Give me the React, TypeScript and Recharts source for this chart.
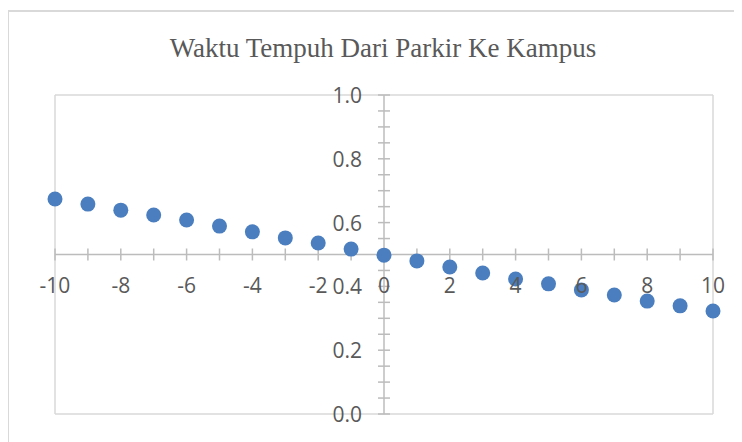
import { CartesianGrid, ReferenceDot, ReferenceLine, Scatter, ScatterChart, XAxis, YAxis } from "recharts"

const title = "Waktu Tempuh Dari Parkir Ke Kampus"

const xValues = [-10, -9, -8, -7, -6, -5, -4, -3, -2, -1, 0, 1, 2, 3, 4, 5, 6, 7, 8, 9, 10]
const yValues = [
  0.674, 0.658, 0.639, 0.624, 0.608, 0.589, 0.571, 0.552, 0.536, 0.517, 0.498,
  0.48, 0.461, 0.442, 0.423, 0.408, 0.389, 0.373, 0.354, 0.339, 0.323,
]

const xGridTicks = [-10, -8, -6, -4, -2, 0, 2, 4, 6, 8, 10]
const xTickLabels = ["-10", "-8", "-6", "-4", "-2", "0", "2", "4", "6", "8", "10"]
const xMinorTicks = [-10, -9, -8, -7, -6, -5, -4, -3, -2, -1, 0, 1, 2, 3, 4, 5, 6, 7, 8, 9, 10]

const yGridTicks = [0, 0.2, 0.4, 0.6, 0.8, 1.0]
const yTickLabels = ["0.0", "0.2", "0.4", "0.6", "0.8", "1.0"]
const yMinorTicks = [
  0, 0.05, 0.1, 0.15, 0.2, 0.25, 0.3, 0.35, 0.4, 0.45, 0.5,
  0.55, 0.6, 0.65, 0.7, 0.75, 0.8, 0.85, 0.9, 0.95, 1.0,
]

// axes cross here, like Excel
const crossX = 0
const crossY = 0.5

const data = xValues.map((x, i) => ({ x, y: yValues[i] }))

const W = 734
const H = 434
const axisColor = "#bcbcbc"
const textColor = "#595959"
const font = "'Open Sans', sans-serif"

export default function App() {
  return (
    <div style={{ position: "relative", width: W, height: H }}>
      <div
        style={{
          position: "absolute",
          left: -1,
          top: 2,
          right: 0,
          bottom: 0,
          borderLeft: "2px solid #d9d9d9",
          borderTop: "2px solid #d9d9d9",
        }}
      />
      <div style={{ position: "absolute", left: 0, top: 0 }}>
        <ScatterChart width={W} height={H} margin={{ top: 87, right: 29, bottom: 28, left: 47 }}>
          <CartesianGrid stroke="#d9d9d9" strokeWidth={1.5} />
          <XAxis
            type="number"
            dataKey="x"
            domain={[-10, 10]}
            ticks={xGridTicks}
            tick={false}
            axisLine={false}
            tickLine={false}
            height={0}
          />
          <YAxis
            type="number"
            dataKey="y"
            domain={[0, 1]}
            ticks={yGridTicks}
            tick={false}
            axisLine={false}
            tickLine={false}
            width={0}
          />
          <ReferenceLine y={crossY} stroke={axisColor} strokeWidth={1.5} />
          <ReferenceLine x={crossX} stroke={axisColor} strokeWidth={1.5} />
          {xMinorTicks.map((v) => (
            <ReferenceDot
              key={"xt" + v}
              x={v}
              y={crossY}
              ifOverflow="visible"
              shape={(p: any) => (
                <line x1={p.cx} x2={p.cx} y1={p.cy - 6} y2={p.cy + 6} stroke={axisColor} strokeWidth={1.5} />
              )}
            />
          ))}
          {yMinorTicks.map((v) => (
            <ReferenceDot
              key={"yt" + v}
              x={crossX}
              y={v}
              ifOverflow="visible"
              shape={(p: any) => (
                <line x1={p.cx - 6} x2={p.cx + 6} y1={p.cy} y2={p.cy} stroke={axisColor} strokeWidth={1.5} />
              )}
            />
          ))}
          <Scatter
            data={data}
            isAnimationActive={false}
            shape={(p: any) => <circle cx={p.cx} cy={p.cy} r={7.5} fill="#4a7ebf" />}
          />
          {xGridTicks.map((v, i) => (
            <ReferenceDot
              key={"xl" + v}
              x={v}
              y={crossY}
              ifOverflow="visible"
              shape={(p: any) => (
                <text x={p.cx} y={p.cy + 38} textAnchor="middle" fontSize={21} fontFamily={font} fill={textColor}>
                  {xTickLabels[i]}
                </text>
              )}
            />
          ))}
          {yGridTicks.map((v, i) => (
            <ReferenceDot
              key={"yl" + v}
              x={crossX}
              y={v}
              ifOverflow="visible"
              shape={(p: any) => (
                <text x={p.cx - 22} y={p.cy + 8} textAnchor="end" fontSize={21} fontFamily={font} fill={textColor}>
                  {yTickLabels[i]}
                </text>
              )}
            />
          ))}
        </ScatterChart>
      </div>
      <svg width={W} height={H} style={{ position: "absolute", left: 0, top: 0, pointerEvents: "none" }}>
        <text x={375} y={49} textAnchor="middle" fontSize={27} fontFamily="'Liberation Serif', serif" fill={textColor}>
          {title}
        </text>
      </svg>
    </div>
  )
}
